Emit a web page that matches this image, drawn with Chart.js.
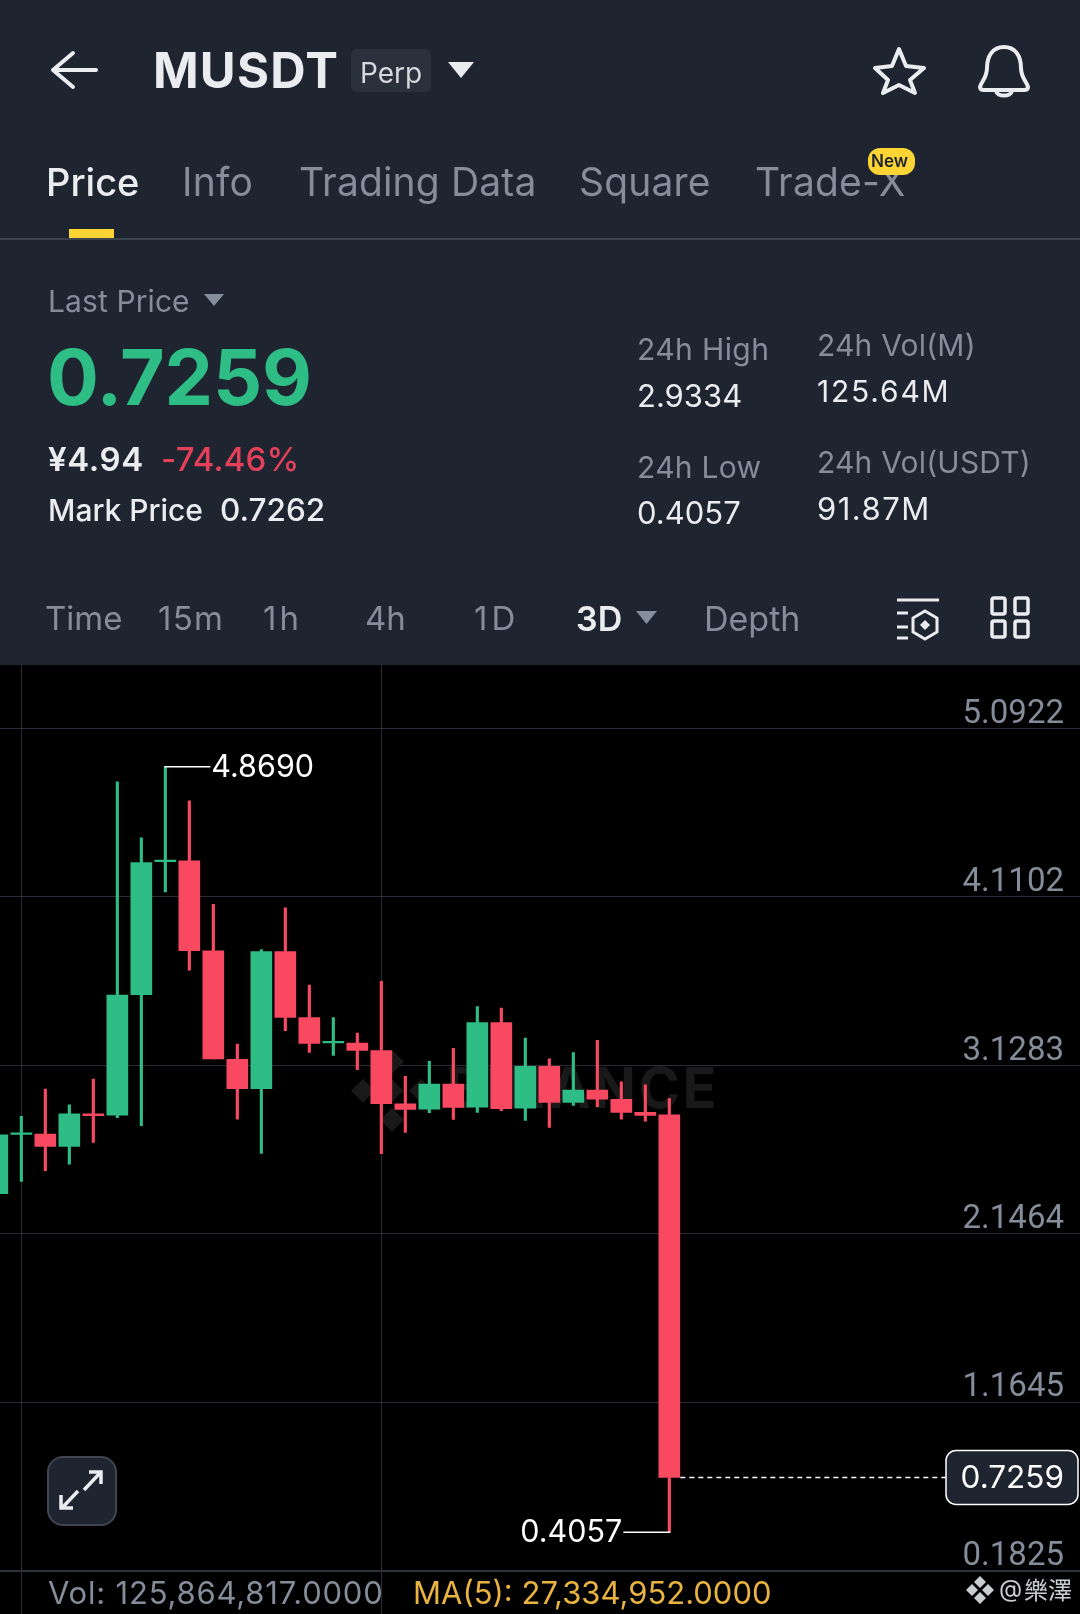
<!DOCTYPE html>
<html>
<head>
<meta charset="utf-8">
<title>MUSDT Perp</title>
<script src="https://cdn.jsdelivr.net/npm/chart.js@4"></script>
<style>
    html, body { margin: 0; padding: 0; background: #000; }
    #page { position: relative; width: 1080px; height: 1614px; overflow: hidden; font-family: Inter, sans-serif; }
    #top { position: absolute; left: 0; top: 0; width: 1080px; height: 665px; background: #1e2530; }
    #chartBox { position: absolute; left: 0; top: 665px; width: 1080px; height: 949px; }
    .t { position: absolute; white-space: nowrap; line-height: 1; }
    .shape { position: absolute; }
    svg { position: absolute; overflow: visible; }
</style>
</head>
<body>
<div id="page">
    <div id="top">
        <div class="shape" style="left:351px;top:49px;width:80px;height:43px;background:#2b313c;border-radius:6px"></div>
        <div class="shape" style="left:69px;top:229px;width:45px;height:9px;background:#fcd535"></div>
        <div class="shape" style="left:0;top:238px;width:1080px;height:2px;background:#3b424d"></div>
        <div class="shape" style="left:868px;top:148px;width:47px;height:27px;background:#fcd535;border-radius:12px;z-index:2"></div>

        <svg style="left:0;top:0" width="1080" height="665" fill="none">
            <!-- back arrow -->
            <path d="M96 70H54M73 53L53 70L73 87" stroke="#eaecef" stroke-width="4" stroke-linecap="round" stroke-linejoin="round"/>
            <!-- triangles -->
            <path d="M448 62H474L461 78Z" fill="#eaecef"/>
            <path d="M204 294H224L214 306Z" fill="#848e9c"/>
            <path d="M636 611H657L646.5 624Z" fill="#848e9c"/>
            <!-- star -->
            <path d="M899 49L906 66L924 68L910 80L915 93L899 85L883 93L888 80L875 68L892 66Z" stroke="#eaecef" stroke-width="4" stroke-linejoin="round"/>
            <!-- bell -->
            <path d="M1004 47C992 47 987 57 987 68C987 78 981 82 980 87C980 89 981 90 984 90H1024C1027 90 1028 89 1028 87C1027 82 1021 78 1021 68C1021 57 1016 47 1004 47Z" stroke="#eaecef" stroke-width="4" stroke-linejoin="round"/>
            <path d="M996 91C997 97 1011 97 1012 91" stroke="#eaecef" stroke-width="4"/>
            <!-- depth icon -->
            <path d="M897 600H939M897 613H908M897 627H908M897 638H908" stroke="#eaecef" stroke-width="3"/>
            <path d="M925 611L937 618V632L925 639L913 632V618Z" stroke="#eaecef" stroke-width="3"/>
            <path d="M925 620L930 625L925 630L920 625Z" fill="#eaecef"/>
            <!-- layout icon -->
            <g stroke="#eaecef" stroke-width="3.5">
                <rect x="992" y="598" width="13" height="16" rx="2"/>
                <rect x="1015" y="598" width="13" height="16" rx="2"/>
                <rect x="992" y="621" width="13" height="16" rx="2"/>
                <rect x="1015" y="621" width="13" height="16" rx="2"/>
            </g>
        </svg>
    </div>

    <div id="chartBox"><canvas id="klineChart" width="1080" height="949"></canvas></div>

    <div class="shape" style="left:47px;top:1456px;width:66px;height:66px;background:#1e2530;border:2px solid #3f4652;border-radius:16px"></div>
    <svg style="left:0;top:0" width="1080" height="1614" fill="none">
        <path d="M84 1490L100 1473M89 1472H101V1484M78 1491L62 1508M61 1495V1508H73" stroke="#eaecef" stroke-width="3.5"/>
        <g fill="#c9ccd1">
            <path d="M980 1576L986 1582L980 1588L974 1582Z"/>
            <path d="M980 1592L986 1598L980 1604L974 1598Z"/>
            <path d="M972 1584L978 1590L972 1596L966 1590Z"/>
            <path d="M988 1584L994 1590L988 1596L982 1590Z"/>
        </g>
    </svg>
</div>

<script>
// ====== CANDLE DATA ======
const periods = [0,1,2,3,4,5,6,7,8,9,10,11,12,13,14,15,16,17,18,19,20,21,22,23,24,25,26,27,28];
const opens  = [2.379,2.725,2.7272,2.6552,2.845,2.838,3.54,4.315,4.3198,3.7948,3.1627,2.9916,3.7909,3.4058,3.258,3.258,3.2132,2.904,2.8729,3.0187,2.8845,3.3765,2.8787,3.1218,2.9118,2.9837,2.9293,2.8534,2.8398];
const closes = [2.7232,2.735,2.6552,2.8457,2.835,3.5381,4.3101,4.325,3.7967,3.1647,2.9916,3.7909,3.4078,3.2561,3.268,3.2152,2.904,2.8709,3.0187,2.8826,3.3765,2.8748,3.1218,2.9118,2.9837,2.9312,2.8534,2.8359,0.7259];
const highs  = [2.79,2.8302,2.9897,2.8983,3.048,4.7807,4.454,4.869,4.6699,4.067,3.2522,3.8025,4.0456,3.5964,3.4058,3.3164,3.6177,3.0635,3.151,3.2268,3.4699,3.4621,3.2871,3.1665,3.2015,3.2735,3.0323,3.0148,2.9334];
const lows   = [2.36,2.451,2.5132,2.5521,2.6785,2.8224,2.7757,4.139,3.682,3.1647,2.8146,2.6143,3.33,3.2036,3.1861,3.1024,2.6123,2.7367,2.8515,2.8126,2.8534,2.8631,2.8068,2.7659,2.8943,2.8865,2.8145,2.8029,0.4057];
const priceTicks = ["5.0922","4.1102","3.1283","2.1464","1.1645","0.1825"];
const timeGridPeriods = [1,16];
const lastPrice = 0.7259;
const highestPeriod = 7;
const lowestPeriod = 28;

const GREEN = "#2ebd85";
const RED = "#f84960";
const FONT = "Inter, sans-serif";

// ====== HEADER TEXT ======
// x = left edge, base = text baseline
function put(text, x, base, size, color, weight = 400, spacing = 0) {
    const el = document.createElement("div");
    el.className = "t";
    el.textContent = text;
    el.style.cssText = `left:${x}px;top:${base - size * 0.864}px;font-size:${size}px;color:${color};font-weight:${weight};letter-spacing:${spacing}px;z-index:3`;
    document.getElementById("page").appendChild(el);
    return el;
}

const gray = "#858d9b";
const white = "#eaecef";

put("MUSDT", 153, 88, 49, white, 700, 1.2);
put("Perp", 360, 83, 28, "#d5d8dc");
put("Price", 46, 196, 38, white, 500);
put("Info", 182, 196, 39, gray, 400, 0.2);
put("Trading Data", 299, 196, 39, gray, 400, 0.15);
put("Square", 579, 196, 39, gray, 400, 0.15);
// the New badge sits over the top of the X
put("Trade-X", 755, 196, 39, gray, 400, 0.15).style.zIndex = 1;
put("New", 871, 168, 17, "#1e2329", 600);
put("Last Price", 48, 312, 30, gray, 400, 0.1);
put("0.7259", 47, 406, 77, GREEN, 700, -0.2);
put("¥4.94", 48, 472, 33, white, 600, 0.6);
put("-74.46%", 161, 472, 33, "#e4405a", 500, 0.2);
put("Mark Price", 48, 521, 30, white, 500);
put("0.7262", 220, 521, 31.5, white, 500);
put("24h High", 637, 360, 30, gray, 400, 0.4);
put("2.9334", 637, 407, 31, white);
put("24h Low", 637, 478, 30, gray, 400, 0.3);
put("0.4057", 637, 524, 31, white);
put("24h Vol(M)", 817, 356, 30, gray, 400, 0.2);
put("125.64M", 817, 402, 30, white, 400, 1.8);
put("24h Vol(USDT)", 817, 473, 30, gray, 400, 0.2);
put("91.87M", 817, 520, 31, white, 400, 1.5);
put("Time", 45, 631, 33, gray);
put("15m", 158, 631, 33, gray, 400, 1.3);
put("1h", 263, 631, 33, gray, 400, 3);
put("4h", 365, 631, 33, gray);
put("1D", 474, 631, 33, gray, 400, 4);
put("3D", 576, 631, 34, white, 600);
put("Depth", 704, 631, 34, gray);
put("Vol: 125,864,817.0000", 48, 1604, 31, gray, 400, 0.8);
put("MA(5): 27,334,952.0000", 413, 1604, 31, "#e8b341");
put("@", 999, 1598, 24, "#c9ccd1");
const mark = put("樂澤", 1024, 1598, 24, "#c9ccd1");
mark.style.fontFamily = '"Noto Sans CJK TC"';

// ====== CHART PLUGINS ======
const backdrop = {
    id: "backdrop",
    beforeDatasetsDraw(chart) {
        const { ctx, scales: { y } } = chart;
        const cy = y.getPixelForValue(2.98);
        ctx.save();
        ctx.fillStyle = "#191919";
        ctx.font = `700 56px ${FONT}`;
        ctx.letterSpacing = "2.5px";
        ctx.textBaseline = "middle";
        ctx.textAlign = "left";
        ctx.fillText("BINANCE", 446, cy);
        // logo diamonds
        ctx.translate(392, cy);
        ctx.rotate(Math.PI / 4);
        ctx.fillRect(-8, -8, 16, 16);
        ctx.fillRect(-29, -29, 17, 17);
        ctx.fillRect(12, 12, 17, 17);
        ctx.fillRect(-29, 12, 17, 17);
        ctx.fillRect(12, -29, 17, 17);
        ctx.restore();
    },
    afterDraw(chart) {
        // time grid runs on past the plot, down to the volume row
        const { ctx, chartArea, scales: { x } } = chart;
        ctx.save();
        ctx.strokeStyle = "#2a2d35";
        timeGridPeriods.forEach((p) => {
            const px = Math.round(x.getPixelForValue(p)) + 0.5;
            ctx.beginPath();
            ctx.moveTo(px, chartArea.bottom);
            ctx.lineTo(px, chart.height);
            ctx.stroke();
        });
        ctx.restore();
    }
};

const priceMarks = {
    id: "priceMarks",
    afterDatasetsDraw(chart) {
        const { ctx, scales: { x, y } } = chart;
        const lastY = Math.round(y.getPixelForValue(lastPrice)) + 0.5;
        const lastX = x.getPixelForValue(periods[periods.length - 1]);
        const boxX = 946, boxW = 132, boxH = 54;

        ctx.save();
        ctx.strokeStyle = "#ffffff";
        ctx.lineWidth = 1.5;
        ctx.setLineDash([5, 4]);
        ctx.beginPath();
        ctx.moveTo(lastX + 11, lastY);
        ctx.lineTo(boxX, lastY);
        ctx.stroke();
        ctx.setLineDash([]);

        ctx.fillStyle = "#1e2530";
        ctx.beginPath();
        ctx.roundRect(boxX, lastY - boxH / 2, boxW, boxH, 10);
        ctx.fill();
        ctx.stroke();

        ctx.fillStyle = "#ffffff";
        ctx.font = `400 31.5px ${FONT}`;
        ctx.textBaseline = "middle";
        ctx.textAlign = "right";
        ctx.fillText(lastPrice.toFixed(4), 1064, lastY + 1);

        // extreme markers
        const hx = x.getPixelForValue(highestPeriod), hy = y.getPixelForValue(highs[highestPeriod]);
        ctx.beginPath();
        ctx.moveTo(hx - 1, hy);
        ctx.lineTo(hx + 45, hy);
        ctx.stroke();
        ctx.textAlign = "left";
        ctx.font = `400 30.5px ${FONT}`;
        ctx.fillText(highs[highestPeriod].toFixed(4), hx + 46, hy + 1);

        const lx = x.getPixelForValue(lowestPeriod), ly = y.getPixelForValue(lows[lowestPeriod]);
        ctx.beginPath();
        ctx.moveTo(lx + 1, ly);
        ctx.lineTo(lx - 46, ly);
        ctx.stroke();
        ctx.textAlign = "right";
        ctx.fillText(lows[lowestPeriod].toFixed(4), lx - 47, ly + 1);
        ctx.restore();
    }
};

// ====== CHART ======
const candleColors = periods.map((p) => (closes[p] >= opens[p] ? GREEN : RED));

new Chart(document.getElementById("klineChart").getContext("2d"), {
    type: "bar",
    data: {
        datasets: [
            {
                label: "Wick",
                data: periods.map((p) => ({ x: p, y: [lows[p], highs[p]] })),
                backgroundColor: candleColors,
                barThickness: 2.5,
                grouped: false,
                order: 2
            },
            {
                label: "Body",
                data: periods.map((p) => ({ x: p, y: [opens[p], closes[p]] })),
                backgroundColor: candleColors,
                barThickness: 21,
                grouped: false,
                order: 1
            }
        ]
    },
    options: {
        responsive: false,
        animation: false,
        devicePixelRatio: 1,
        layout: { padding: { left: 0, right: 0, top: 0, bottom: 43.5 } },
        plugins: { legend: { display: false }, tooltip: { enabled: false } },
        scales: {
            x: {
                type: "linear",
                offset: false,
                min: 0.111,
                max: 45.111,
                border: { display: false },
                grid: { color: "#2a2d35", drawTicks: false, offset: false },
                ticks: { display: false },
                afterBuildTicks: (axis) => {
                    axis.ticks = timeGridPeriods.map((value) => ({ value }));
                },
                afterFit: (axis) => {
                    axis.paddingLeft = 0;
                    axis.paddingRight = 0;
                }
            },
            y: {
                type: "linear",
                position: "right",
                min: 0.1825,
                max: 5.462,
                border: { display: false },
                grid: {
                    color: (c) => (c.tick && c.tick.value === 0.1825 ? "#2e333c" : "#2a2d35"),
                    lineWidth: (c) => (c.tick && c.tick.value === 0.1825 ? 2 : 1),
                    drawTicks: false
                },
                ticks: {
                    mirror: true,
                    padding: -16,
                    labelOffset: -14,
                    color: "#858d9b",
                    font: { family: "Roboto, sans-serif", size: 33 },
                    autoSkip: false,
                    callback: (v) => v.toFixed(4)
                },
                afterBuildTicks: (axis) => {
                    axis.ticks = priceTicks.map((t) => ({ value: Number(t) }));
                },
                afterFit: (axis) => {
                    // labels sit inside the plot, so the axis takes up no room of its own
                    axis.width = 0;
                    axis.paddingTop = 0;
                    axis.paddingBottom = 0;
                }
            }
        }
    },
    plugins: [backdrop, priceMarks]
});
</script>
</body>
</html>
